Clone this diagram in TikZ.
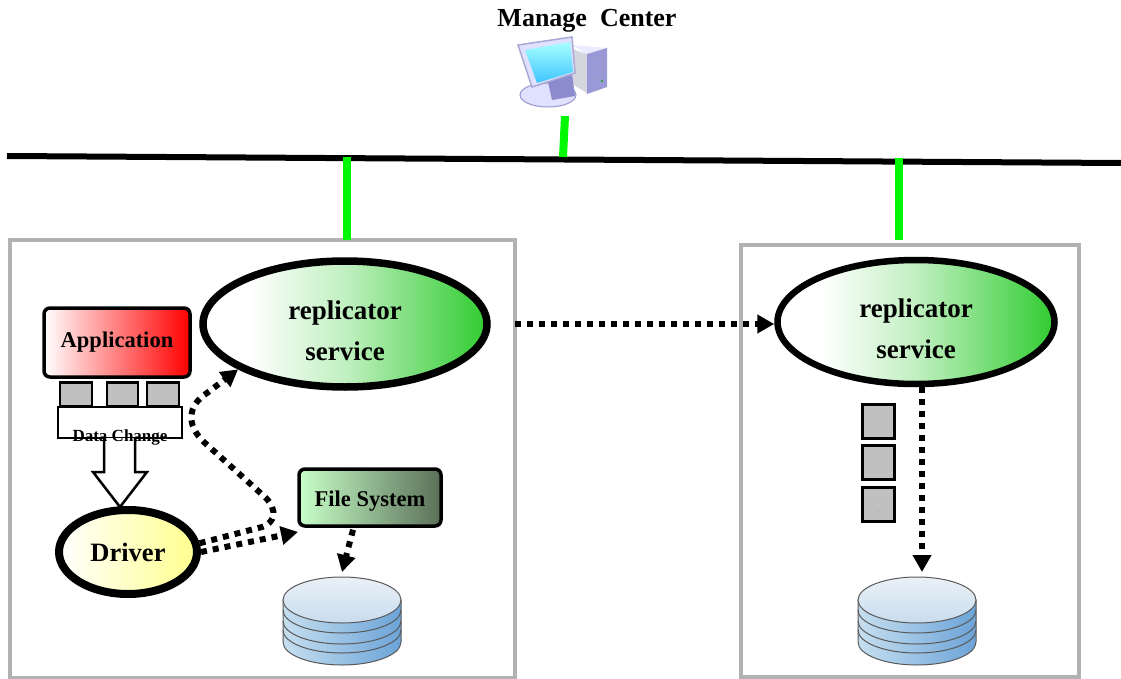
\documentclass[tikz,border=0pt]{standalone}
\usepackage{fontspec}
\setmainfont{Liberation Serif}
\usetikzlibrary{positioning, arrows.meta, shapes.geometric}

\definecolor{hostgray}{HTML}{B2B2B2}
\definecolor{boxgray}{HTML}{C0C0C0}
\definecolor{linkgreen}{HTML}{00F800}
\definecolor{svcgreen}{HTML}{30CC30}
\definecolor{fsleft}{HTML}{C8FFC8}
\definecolor{fsright}{HTML}{5A7058}
\definecolor{dbtop}{HTML}{EAF0F7}
\definecolor{dbmid}{HTML}{C9DDEE}
\definecolor{dbleft}{HTML}{C6DFEF}
\definecolor{dbright}{HTML}{6CA3D8}
\pgfdeclarehorizontalshading{svcshade}{100bp}{color(0bp)=(white); color(33bp)=(white); color(50bp)=(svcgreen!30!white); color(75bp)=(svcgreen); color(100bp)=(svcgreen)}

\tikzset{
  host/.style={draw=hostgray, line width=4.5pt, inner sep=0pt, outer sep=0pt},
  service/.style={ellipse, draw, line width=7.5pt, inner sep=0pt, shade, shading=svcshade, font=\fontsize{27}{41}\selectfont\bfseries, align=center},
  card/.style={draw, rounded corners=6pt, line width=3.5pt, inner sep=0pt, font=\fontsize{22.5}{24}\selectfont\bfseries},
  block/.style={draw, line width=2.5pt, fill=boxgray, inner sep=0pt},
  flow/.style={line width=6pt, dash pattern=on 6pt off 6pt, -{Triangle[length=17pt,width=18pt]}},
  link/.style={linkgreen, line width=8pt},
  dbstack/.pic={
    \path[draw=black!65, line width=1pt, left color=dbleft, right color=dbright]
      (-59,0) -- (-59,42) .. controls (-59,55) and (-32,65) .. (0,65) .. controls (32,65) and (59,55) .. (59,42) -- (59,0) -- cycle;
    \foreach \dy in {10,21,30} {
      \draw[black!65, line width=1pt] (-59,\dy) .. controls (-59,\dy+13) and (-32,\dy+23) .. (0,\dy+23) .. controls (32,\dy+23) and (59,\dy+13) .. (59,\dy);
    }
    \draw[black!65, line width=1pt, top color=dbtop, bottom color=dbmid] (0,0) ellipse [x radius=59, y radius=23];
    \coordinate (-top) at (0,-28);
  }
}

\begin{document}
\begin{tikzpicture}[x=1pt, y=-1pt]
   \useasboundingbox (0,0) rectangle (1121,679);

   % Bus and title
   \coordinate (busl) at (7,156);
   \coordinate (busr) at (1121,163);
   \draw[line width=6pt] (busl) -- (busr);
   \node[font=\fontsize{26}{26}\selectfont\bfseries] (title) at (587,21) {Manage\ \ Center};

   % The manage computer
   \fill[blue!8!white] (572,45) -- (607,48) -- (587,54) -- cycle;
   \fill[blue!10!gray!30] (572,49) -- (587,54) -- (587,93) -- (565,80) -- cycle;
   \fill[blue!45!gray!55] (587,54) -- (607,48) -- (607,87) -- (587,94) -- cycle;
   \draw[blue!30!gray!60, line width=1pt] (592,58) -- (603,56) -- (603,76) -- (592,79) -- cycle (592,68) -- (603,66);
   \fill[green!70!black] (602,81) circle (1.2);
   \fill[blue!12!white, draw=blue!35!gray!60, line width=1pt] (548,95) ellipse [x radius=28, y radius=12];
   \fill[blue!40!gray!65] (548,82) -- (572,74) -- (575,96) -- (552,100) -- cycle;
   \fill[blue!12!white, draw=blue!35!gray!50, line width=1.5pt] (518,45) -- (572,37) -- (575,73) -- (532,87) -- cycle;
   \shade[top color=cyan!35!white, bottom color=blue!30!cyan!75] (525,50) -- (570,42) -- (573,72) -- (537,83) -- cycle;

   % Hosts
   \node[host, minimum width=505pt, minimum height=438pt] (hosta) at (262.5,459) {};
   \node[host, minimum width=338pt, minimum height=432pt] (hostb) at (910,461) {};

   % Green links to the bus
   \coordinate (tapc) at (565,116);
   \coordinate (tapa) at (347,157);
   \coordinate (tapb) at (899,158);
   \draw[link] (tapc) -- (563,157);
   \draw[link] (tapa) -- (tapa |- hosta.north);
   \draw[link] (tapb) -- (899,240);

   % Left host
   \node[service, minimum width=284pt, minimum height=126pt] (svca) at (345,324) {\rule{0pt}{32pt}replicator\\service};
   \node[card, minimum width=146pt, minimum height=69pt, left color=white, right color=red] (app) at (117,342.5) {Application};
   \node[block, minimum width=32pt, minimum height=24pt] (cella) at (76,394.5) {};
   \node[block, minimum width=31pt, minimum height=24pt] (cellb) at (122.5,394.5) {};
   \node[block, minimum width=32pt, minimum height=24pt] (cellc) at (163,394.5) {};
   \node[draw, line width=2.5pt, fill=white, minimum width=124pt, minimum height=31pt, inner sep=0pt] (change) at (120,422.5) {};
   \draw[line width=2.5pt, fill=white] (104,438) -- (104,472) -- (93,472) -- (120,507) -- (147,472) -- (135,472) -- (135,438);
   \node[font=\fontsize{17}{17}\selectfont\bfseries] (changetext) at (120,437) {Data Change};
   \node[ellipse, draw, line width=8pt, inner sep=0pt, left color=white, right color=yellow!45!white, font=\fontsize{26.5}{28}\selectfont\bfseries, minimum width=138pt, minimum height=84pt] (driver) at (128,552) {Driver};
   \node[card, minimum width=142pt, minimum height=57pt, left color=fsleft, right color=fsright] (fs) at (370,497.5) {\rule{0pt}{23pt}File System};
   \pic (dba) at (342,600) {dbstack};

   % Right host
   \node[service, line width=6.5pt, minimum width=277pt, minimum height=124pt] (svcb) at (916,322) {\rule{0pt}{32pt}replicator\\service};
   \foreach \name/\ypos in {qa/421, qb/462.5, qc/504.5} {
     \node[block, line width=3pt, minimum width=32pt, minimum height=34pt, font=\fontsize{3}{3}\selectfont] (\name) at (878,\ypos) {\rule{0pt}{14pt}..};
   }
   \pic (dbb) at (917,600) {dbstack};

   % Transitions
   \coordinate (fsin) at (298,532);
   \draw[flow] (hosta.east |- svca) -- (svca -| svcb.west);
   \draw[flow] (922,387) -- (922,572);
   \draw[flow] (fs.south) ++(-17,2) -- (dba-top);
   \draw[flow] (driver.0) -- (fsin);
   \draw[flow] (driver.7) -- (262,527) .. controls (276,522) and (277,510) .. (266,498) -- (205,443) .. controls (185,425) and (188,405) .. (207,393) -- (svca.-157);
\end{tikzpicture}
\end{document}
